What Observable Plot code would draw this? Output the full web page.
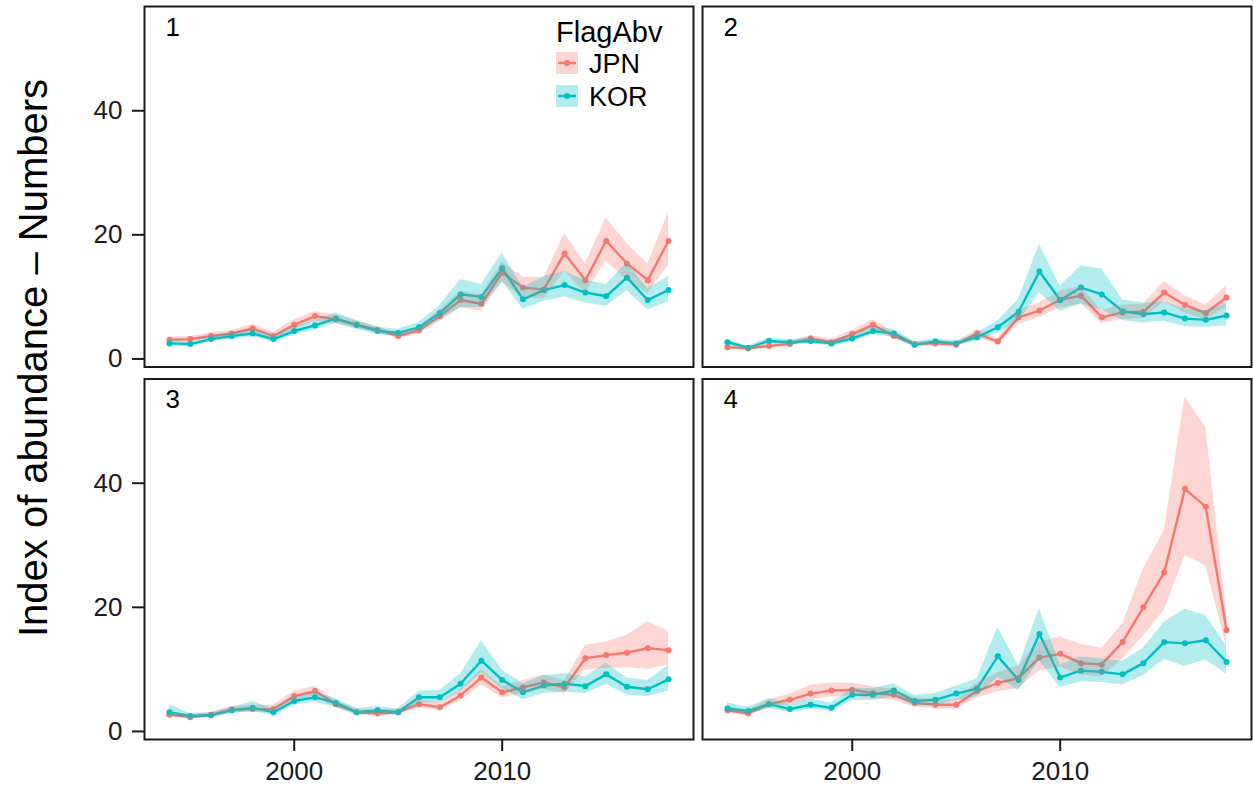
<!DOCTYPE html>
<html><head><meta charset="utf-8">
<script src="https://cdn.jsdelivr.net/npm/d3@7"></script>
<script src="https://cdn.jsdelivr.net/npm/@observablehq/plot@0.6"></script>
<style>
html,body{margin:0;padding:0;background:#fff;}
#wrap{position:relative;width:1253px;height:789px;font-family:"Liberation Sans",Arial,sans-serif;}
#wrap svg{position:absolute;left:0;top:0;}
</style></head><body><div id="wrap"></div>
<script>
const years = [1994,1995,1996,1997,1998,1999,2000,2001,2002,2003,2004,2005,2006,2007,2008,2009,2010,2011,2012,2013,2014,2015,2016,2017,2018];
const flags = ["JPN","KOR"];
const flagColors = ["#F8766D","#00BFC4"];
const areas = ["1","2","3","4"];
const yTicks = [0,20,40];
const xTicks = [2000,2010];
const legendTitle = "FlagAbv";
const yTitle = "Index of abundance \u2013 Numbers";

// Area 1
const jpn1   = [3.1,3.2,3.7,4.1,4.9,3.7,5.5,6.9,6.4,5.5,4.7,3.7,4.6,6.9,9.5,8.9,13.9,11.5,11.2,17.0,12.7,19.0,15.4,12.7,19.0];
const jpn1Lo = [2.7,2.8,3.3,3.6,4.3,3.2,4.8,6.1,5.7,4.9,4.2,3.3,4.0,6.0,8.2,7.7,12.3,10.0,9.6,14.1,10.6,15.8,12.7,10.5,15.1];
const jpn1Hi = [3.5,3.6,4.2,4.6,5.6,4.3,6.3,7.6,7.1,6.1,5.2,4.2,5.2,7.9,10.9,10.3,15.6,13.2,13.1,20.2,15.4,22.7,18.6,15.3,23.7];
const kor1   = [2.5,2.4,3.2,3.7,4.1,3.2,4.5,5.4,6.5,5.5,4.5,4.2,5.1,7.4,10.4,10.0,14.6,9.6,11.1,11.9,10.7,10.1,13.1,9.5,11.1];
const kor1Lo = [2.1,2.0,2.8,3.2,3.6,2.7,3.9,4.7,5.7,4.8,3.9,3.7,4.4,6.3,8.3,8.3,12.5,8.0,9.3,10.0,9.0,8.5,11.0,7.9,9.2];
const kor1Hi = [3.0,2.8,3.7,4.2,4.7,3.7,5.2,6.2,7.4,6.2,5.1,4.8,5.9,8.6,12.8,12.0,17.1,11.5,13.3,14.1,12.7,12.0,15.5,11.3,13.3];
// Area 2
const jpn2   = [1.9,1.7,2.1,2.4,3.3,2.7,4.0,5.5,3.7,2.4,2.5,2.3,4.1,2.8,6.7,7.8,9.5,10.2,6.7,7.5,7.6,10.7,8.7,7.4,9.9];
const jpn2Lo = [1.6,1.4,1.8,2.0,2.8,2.3,3.4,4.8,3.2,2.0,2.1,1.9,3.5,2.3,5.6,6.7,8.2,8.9,5.7,6.4,6.5,9.2,7.4,6.3,8.3];
const jpn2Hi = [2.3,2.0,2.5,2.8,3.8,3.2,4.6,6.3,4.3,2.8,2.9,2.7,4.8,3.3,7.9,9.0,10.9,11.7,7.8,8.7,8.8,12.5,10.2,8.7,11.8];
const kor2   = [2.7,1.8,2.9,2.7,2.9,2.5,3.3,4.5,4.1,2.3,2.8,2.5,3.5,5.1,7.6,14.1,9.5,11.5,10.4,7.7,7.2,7.5,6.5,6.3,7.0];
const kor2Lo = [2.3,1.5,2.5,2.3,2.5,2.1,2.8,3.9,3.5,1.9,2.4,2.1,2.9,4.2,6.0,10.7,7.7,8.8,7.9,6.2,5.8,6.1,5.2,5.1,5.3];
const kor2Hi = [3.1,2.1,3.4,3.1,3.4,2.9,3.8,5.2,4.8,2.7,3.3,2.9,4.2,6.1,9.6,18.5,11.7,15.0,14.5,9.5,9.0,9.2,8.1,7.8,8.9];
// Area 3
const jpn3   = [2.7,2.3,2.7,3.5,3.6,3.6,5.7,6.5,4.4,3.1,2.9,3.1,4.4,3.9,5.8,8.7,6.3,7.1,7.9,7.1,11.8,12.3,12.7,13.4,13.1];
const jpn3Lo = [2.3,2.0,2.3,3.0,3.1,3.1,4.9,5.7,3.8,2.7,2.5,2.7,3.8,3.3,5.0,7.5,5.4,6.1,6.8,6.1,9.9,10.2,10.3,10.0,10.7];
const jpn3Hi = [3.1,2.7,3.1,4.0,4.2,4.2,6.5,7.3,5.0,3.6,3.4,3.6,5.1,4.6,6.7,10.0,7.3,8.2,9.1,8.2,13.9,14.4,15.5,17.7,16.1];
const kor3   = [3.1,2.5,2.6,3.4,3.8,3.1,4.9,5.5,4.6,3.1,3.4,3.1,5.5,5.5,7.7,11.4,8.3,6.3,7.4,7.7,7.3,9.2,7.2,6.8,8.4];
const kor3Lo = [2.5,2.1,2.2,2.9,3.2,2.6,4.2,4.7,3.9,2.6,2.9,2.6,4.6,4.6,6.4,9.4,6.9,5.1,6.1,6.3,6.1,7.6,5.9,5.6,6.5];
const kor3Hi = [4.3,2.9,3.0,3.9,4.8,3.6,5.6,6.3,5.3,3.7,4.0,3.6,6.5,6.6,9.3,14.6,9.9,7.7,9.0,9.3,8.8,11.0,8.6,8.2,10.7];
// Area 4
const jpn4   = [3.4,2.9,4.4,5.1,6.1,6.6,6.7,6.2,5.9,4.6,4.3,4.3,6.5,7.8,8.6,11.9,12.5,11.0,10.8,14.4,20.0,25.6,39.1,36.2,16.3];
const jpn4Lo = [2.9,2.5,3.8,4.3,5.1,5.6,5.7,5.3,5.0,3.9,3.6,3.6,5.4,6.4,6.9,9.8,10.4,9.1,8.8,11.7,15.4,19.5,28.3,26.7,13.6];
const jpn4Hi = [3.9,3.4,5.1,6.0,7.5,7.8,7.8,7.2,6.8,5.4,5.1,5.1,7.8,9.4,10.6,14.4,15.2,14.0,13.4,17.3,26.2,32.3,53.9,49.0,18.9];
const kor4   = [3.7,3.3,4.4,3.6,4.3,3.8,5.9,5.9,6.6,4.9,5.1,6.1,6.9,12.1,8.3,15.7,8.7,9.8,9.6,9.2,11.0,14.4,14.2,14.7,11.2];
const kor4Lo = [3.1,2.8,3.7,3.0,3.6,3.2,5.0,5.0,5.6,4.1,4.2,5.0,5.6,8.7,6.6,11.4,7.1,8.0,7.9,7.5,9.0,11.6,10.5,11.5,9.2];
const kor4Hi = [4.6,3.9,5.3,4.3,5.2,4.6,6.9,6.9,7.7,5.8,6.1,7.3,8.5,16.8,10.5,19.8,10.8,12.0,11.7,11.3,13.4,17.6,19.7,18.7,13.8];

const series = {
  "1": {JPN: [jpn1, jpn1Lo, jpn1Hi], KOR: [kor1, kor1Lo, kor1Hi]},
  "2": {JPN: [jpn2, jpn2Lo, jpn2Hi], KOR: [kor2, kor2Lo, kor2Hi]},
  "3": {JPN: [jpn3, jpn3Lo, jpn3Hi], KOR: [kor3, kor3Lo, kor3Hi]},
  "4": {JPN: [jpn4, jpn4Lo, jpn4Hi], KOR: [kor4, kor4Lo, kor4Hi]}
};

const rows = [];
areas.forEach((a, i) => {
  flags.forEach(f => {
    const [v, lo, hi] = series[a][f];
    years.forEach((yr, j) => rows.push({area: a, col: i % 2, row: Math.floor(i / 2), flag: f, year: yr, value: v[j], lo: lo[j], hi: hi[j]}));
  });
});
const panels = areas.map((a, i) => ({area: a, col: i % 2, row: Math.floor(i / 2)}));

const FONT = '"Liberation Sans", Arial, Helvetica, sans-serif';

const plot = Plot.plot({
  width: 1253, height: 789,
  marginLeft: 144, marginRight: 2, marginTop: 6, marginBottom: 50,
  style: {background: "white", fontFamily: FONT, overflow: "visible"},
  fx: {domain: [0, 1], paddingInner: 0.01613, paddingOuter: 0, round: false, axis: null},
  fy: {domain: [0, 1], paddingInner: 0.0322, paddingOuter: 0, round: false, axis: null},
  x: {domain: [1992.8, 2019.2], axis: null},
  y: {domain: [-1.3, 56.8], axis: null},
  color: {domain: flags, range: flagColors},
  marks: [
    Plot.line(rows, {fx: "col", fy: "row", x: "year", y: "value", z: "flag", stroke: "flag", strokeWidth: 2.4}),
    Plot.dot(rows, {fx: "col", fy: "row", x: "year", y: "value", fill: "flag", r: 3}),
    Plot.areaY(rows, {fx: "col", fy: "row", x: "year", y1: "lo", y2: "hi", z: "flag", fill: "flag", fillOpacity: 0.3}),
    Plot.frame({stroke: "#1a1a1a", strokeWidth: 2}),
    Plot.axisY({ticks: yTicks, anchor: "left", facetAnchor: "left", tickSize: 12, tickPadding: 10, fontSize: 26, color: "#1a1a1a", strokeWidth: 2, label: null}),
    Plot.axisX({ticks: xTicks, anchor: "bottom", facetAnchor: "bottom", tickSize: 12, tickPadding: 10, fontSize: 26, color: "#1a1a1a", strokeWidth: 2, tickFormat: d => String(d), label: null}),
    Plot.text(panels, {fx: "col", fy: "row", text: "area", frameAnchor: "top-left", dx: 21, dy: 11, lineAnchor: "top", textAnchor: "start", fontSize: 26, fill: "black"})
  ]
});
document.getElementById("wrap").appendChild(plot);

// Overlay: legend and y-axis title
const ov = d3.select("#wrap").append("svg")
  .attr("width", 1253).attr("height", 789)
  .style("pointer-events", "none")
  .style("font-family", FONT);

ov.append("text")
  .attr("transform", "translate(47,358) rotate(-90)")
  .attr("text-anchor", "middle")
  .attr("font-size", 40)
  .attr("fill", "black")
  .text(yTitle);

ov.append("text").attr("x", 556).attr("y", 42).attr("font-size", 29).attr("fill", "black").text(legendTitle);
flags.forEach((f, i) => {
  const cy = 63 + i * 33;
  const g = ov.append("g");
  g.append("rect").attr("x", 556).attr("y", cy - 11).attr("width", 22).attr("height", 22)
    .attr("fill", flagColors[i]).attr("fill-opacity", 0.3);
  g.append("line").attr("x1", 558).attr("x2", 576).attr("y1", cy).attr("y2", cy)
    .attr("stroke", flagColors[i]).attr("stroke-width", 2.4);
  g.append("circle").attr("cx", 567).attr("cy", cy).attr("r", 3).attr("fill", flagColors[i]);
  g.append("text").attr("x", 589).attr("y", cy + 9.5).attr("font-size", 27).attr("fill", "black").text(f);
});
</script></body></html>
